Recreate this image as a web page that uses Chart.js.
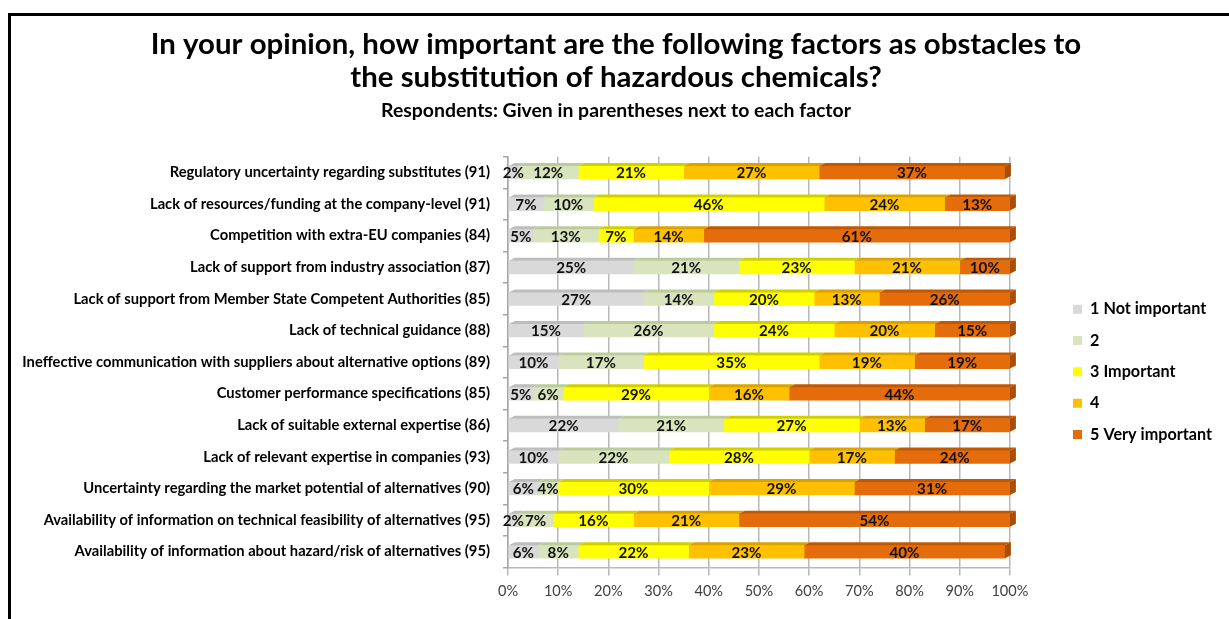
<!DOCTYPE html>
<html>
<head>
<meta charset="utf-8">
<script src="https://cdn.jsdelivr.net/npm/chart.js@4/dist/chart.umd.min.js"></script>
<style>
  html, body { margin: 0; padding: 0; background: #ffffff; }
  #wrap { position: relative; width: 1229px; height: 619px; overflow: hidden; }
  #frame { position: absolute; left: 8px; top: 13px; right: -4px; bottom: -4px;
           border-left: 3px solid #000; border-top: 3px solid #000; pointer-events: none; }
  canvas { display: block; }
</style>
</head>
<body>
<div id="wrap">
  <canvas id="chart" width="1229" height="619"></canvas>
  <div id="frame"></div>
</div>
<script>
// ---- data ----
const factors = [
  'Regulatory uncertainty regarding substitutes (91)',
  'Lack of resources/funding at the company-level (91)',
  'Competition with extra-EU companies (84)',
  'Lack of support from industry association (87)',
  'Lack of support from Member State Competent Authorities (85)',
  'Lack of technical guidance (88)',
  'Ineffective communication with suppliers about alternative options (89)',
  'Customer performance specifications (85)',
  'Lack of suitable external expertise (86)',
  'Lack of relevant expertise in companies (93)',
  'Uncertainty regarding the market potential of alternatives (90)',
  'Availability of information on technical feasibility of alternatives (95)',
  'Availability of information about hazard/risk of alternatives (95)'
];
const seriesNames = ['1 Not important', '2', '3 Important', '4', '5 Very important'];
const notImportant  = [ 2,  7,  5, 25, 27, 15, 10,  5, 22, 10,  6,  2,  6];
const levelTwo      = [12, 10, 13, 21, 14, 26, 17,  6, 21, 22,  4,  7,  8];
const important     = [21, 46,  7, 23, 20, 24, 35, 29, 27, 28, 30, 16, 22];
const levelFour     = [27, 24, 14, 21, 13, 20, 19, 16, 13, 17, 29, 21, 23];
const veryImportant = [37, 13, 61, 10, 26, 15, 19, 44, 17, 24, 31, 54, 40];
const xTickValues = [0, 10, 20, 30, 40, 50, 60, 70, 80, 90, 100];

const titleLines = [
  'In your opinion, how important are the following factors as obstacles to',
  'the substitution of hazardous chemicals?'
];
const subtitleText = 'Respondents: Given in parentheses next to each factor';

// ---- styling ----
const FONT = 'Lato';
const frontColors = ['#d9d9d9', '#d7e4bd', '#ffff00', '#ffc000', '#e46c0a'];
const topColors   = ['#bdbdbd', '#bccb9c', '#d0d000', '#d9a300', '#c05905'];
const sideColor   = '#a84e05';
const DX = 6, DY = 3;

// font sizes chosen from the wanted text widths
const mctx = document.createElement('canvas').getContext('2d');
function sizeFor(text, weight, targetWidth) {
  mctx.font = weight + ' 100px ' + FONT;
  return 100 * targetWidth / mctx.measureText(text).width;
}
function textWidth(text, weight, size) {
  mctx.font = weight + ' ' + size + 'px ' + FONT;
  return mctx.measureText(text).width;
}
const titleSize  = sizeFor(titleLines[0], 'bold', 931);
const subSize    = sizeFor(subtitleText, 'bold', 470);
const yLabelSize = sizeFor(factors[6], 'bold', 468);
const legendSize = sizeFor('5 Very important', 'bold', 122);
const tickSize   = sizeFor('100%', 'normal', 37);
const valueSize  = sizeFor('46%', 'bold', 30);

// page layout targets
const PAD_TOP = 16, PAD_BOTTOM = 12;
const AREA_TOP = 156.7, AREA_BOTTOM = 567;
const TITLE_LINE = 33, SUB_LINE = 20;
const titlePadTop = 45 - TITLE_LINE / 2 - PAD_TOP;
const titleBottom = PAD_TOP + titlePadTop + 2 * TITLE_LINE;
const subPadTop = 111 - SUB_LINE / 2 - titleBottom;
const subPadBottom = AREA_TOP - (111 + SUB_LINE / 2);

// legend: swatches near x=1073, rows 31.3px apart, first row centred at y=309
const legendW = textWidth('5 Very important', 'bold', legendSize);
const rightPad = Math.max(0, 1229 - 1073 - 9 - legendSize / 2 - legendW - 10);
const legendRowPad = Math.max(2, 31.3 - legendSize);
const colH = 5 * (legendSize + legendRowPad);
const legendTitleH = Math.max(1, 2 * (309 - legendSize / 2) - legendRowPad - AREA_TOP - AREA_BOTTOM + colH);

// 3D faces on the bars plus value labels
const bar3d = {
  id: 'bar3d',
  afterDatasetsDraw(chart) {
    const ctx = chart.ctx;
    const n = chart.data.datasets.length;
    const xMaxPx = chart.scales.x.getPixelForValue(100);
    const poly = (pts) => {
      ctx.beginPath();
      ctx.moveTo(pts[0][0], pts[0][1]);
      for (let k = 1; k < pts.length; k++) ctx.lineTo(pts[k][0], pts[k][1]);
      ctx.closePath();
      ctx.fill();
    };
    ctx.save();
    chart.data.datasets.forEach((ds, i) => {
      const meta = chart.getDatasetMeta(i);
      meta.data.forEach((el) => {
        const p = el.getProps(['x', 'y', 'base', 'height'], true);
        const top = p.y - p.height / 2, bot = p.y + p.height / 2;
        const left = Math.min(p.base, p.x), right = Math.min(Math.max(p.base, p.x), xMaxPx);
        ctx.fillStyle = topColors[i];
        poly([[left, top], [right, top], [right + DX, top - DY], [left + DX, top - DY]]);
        if (i === n - 1) {
          ctx.fillStyle = sideColor;
          poly([[right, top], [right + DX, top - DY], [right + DX, bot - DY], [right, bot]]);
        }
      });
    });
    ctx.fillStyle = '#111111';
    ctx.font = 'bold ' + valueSize + 'px ' + FONT;
    ctx.textAlign = 'center';
    ctx.textBaseline = 'middle';
    chart.data.datasets.forEach((ds, i) => {
      const meta = chart.getDatasetMeta(i);
      meta.data.forEach((el, j) => {
        const p = el.getProps(['x', 'y', 'base'], true);
        ctx.fillText(ds.data[j] + '%', (p.x + p.base) / 2, p.y + 1);
      });
    });
    ctx.restore();
  }
};

const seriesValues = [notImportant, levelTwo, important, levelFour, veryImportant];

new Chart(document.getElementById('chart'), {
  type: 'bar',
  data: {
    labels: factors,
    datasets: seriesNames.map((name, i) => ({
      label: name,
      data: seriesValues[i],
      backgroundColor: frontColors[i],
      borderWidth: 0,
      barThickness: 13
    }))
  },
  options: {
    indexAxis: 'y',
    responsive: false,
    animation: false,
    devicePixelRatio: 1,
    layout: { padding: { left: 10, right: rightPad, top: PAD_TOP, bottom: PAD_BOTTOM } },
    scales: {
      x: {
        stacked: true,
        min: 0,
        max: 100,
        afterBuildTicks(scale) { scale.ticks = xTickValues.map(v => ({ value: v })); },
        ticks: {
          callback: (v) => v + '%',
          font: { family: FONT, size: tickSize },
          color: '#404040',
          padding: 7
        },
        grid: { color: '#b8b8b8', lineWidth: 1.5, tickLength: 8 },
        border: { color: '#b8b8b8', width: 1.5 }
      },
      y: {
        stacked: true,
        grid: { display: true, drawOnChartArea: false, offset: true, tickLength: 5, color: '#a6a6a6', lineWidth: 1.5 },
        border: { color: '#a6a6a6', width: 1.5 },
        ticks: { font: { family: FONT, size: yLabelSize, weight: 'bold' }, color: '#000000', padding: 13 },
        afterFit(scale) { scale.width = 498; }
      },
      yGap: {
        type: 'category',
        position: 'right',
        labels: factors,
        grid: { display: false },
        border: { display: false },
        ticks: { display: false },
        afterFit(scale) { scale.width = 48; }
      }
    },
    plugins: {
      title: {
        display: true,
        text: titleLines,
        color: '#000000',
        font: { family: FONT, size: titleSize, weight: 'bold', lineHeight: TITLE_LINE / titleSize },
        padding: { top: titlePadTop, bottom: 0 }
      },
      subtitle: {
        display: true,
        text: subtitleText,
        color: '#000000',
        font: { family: FONT, size: subSize, weight: 'bold', lineHeight: SUB_LINE / subSize },
        padding: { top: subPadTop, bottom: subPadBottom }
      },
      legend: {
        position: 'right',
        fullSize: false,
        title: {
          display: true,
          text: ' ',
          font: { family: FONT, size: 1, lineHeight: 1 },
          padding: { top: 0, bottom: legendTitleH - 1 }
        },
        labels: {
          boxWidth: 9,
          boxHeight: 9,
          padding: legendRowPad,
          color: '#000000',
          font: { family: FONT, size: legendSize, weight: 'bold' }
        }
      },
      tooltip: { enabled: false }
    }
  },
  plugins: [bar3d]
});
</script>
</body>
</html>
